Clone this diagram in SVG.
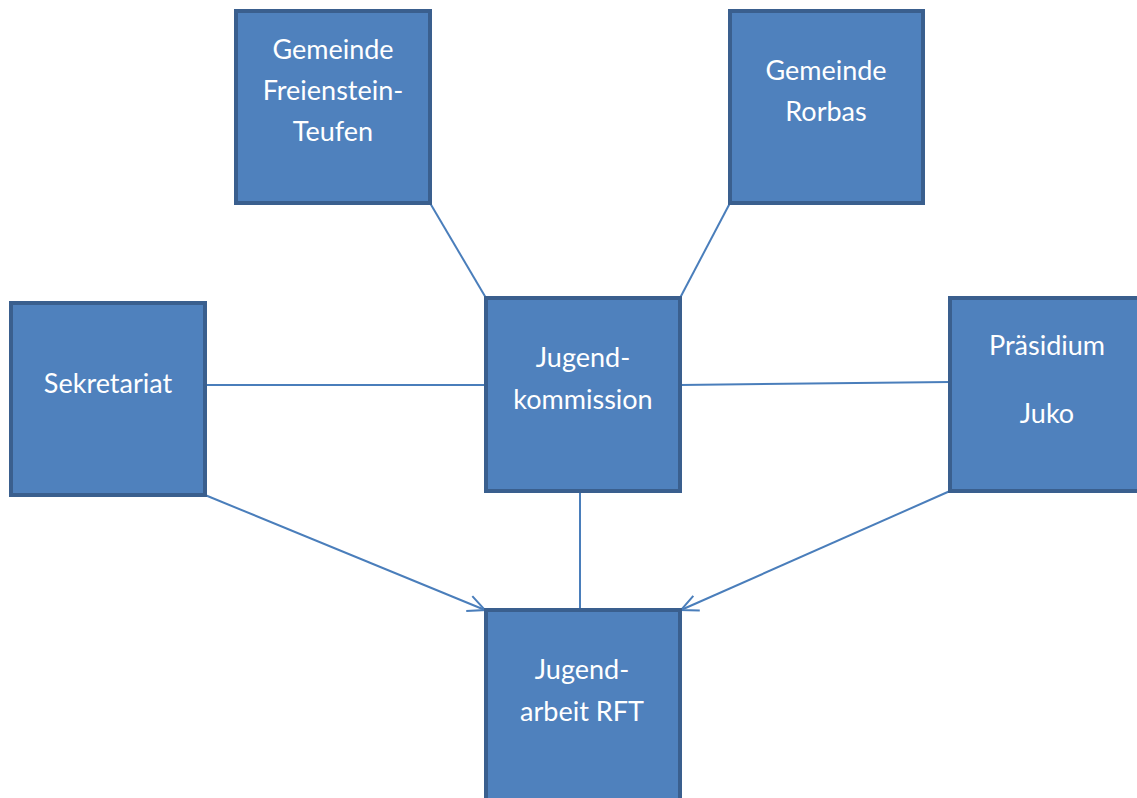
<svg xmlns="http://www.w3.org/2000/svg" width="1137" height="798" viewBox="0 0 1137 798">
<style>
.box{fill:#4F81BD;stroke:#3A5F8E;stroke-width:4}
.t{font-family:Lato,"Open Sans",sans-serif;font-size:27px;fill:#fff;text-anchor:middle}
.c{stroke:#4A7EBB;stroke-width:2;fill:none}
</style>
<defs>
<marker id="arr" markerWidth="22" markerHeight="22" refX="19" refY="11" orient="auto" markerUnits="userSpaceOnUse">
<path d="M2,3 L19,11 L2,19" fill="none" stroke="#4A7EBB" stroke-width="2"/>
</marker>
</defs>
<rect width="1137" height="798" fill="#fff"/>
<g id="connectors">
<line class="c" x1="430" y1="203" x2="486" y2="298"/>
<line class="c" x1="730" y1="203" x2="680" y2="298"/>
<line class="c" x1="205" y1="385" x2="486" y2="385"/>
<line class="c" x1="680" y1="385" x2="950" y2="382"/>
<line class="c" x1="205" y1="495" x2="485" y2="610" marker-end="url(#arr)"/>
<line class="c" x1="580" y1="491" x2="580" y2="610"/>
<line class="c" x1="950" y1="491" x2="681" y2="610" marker-end="url(#arr)"/>
</g>
<g id="freienstein">
<rect class="box" x="236" y="11" width="194" height="192"/>
<text class="t" x="333" y="59">Gemeinde</text>
<text class="t" x="333" y="100">Freienstein-</text>
<text class="t" x="333" y="141">Teufen</text>
</g>
<g id="rorbas">
<rect class="box" x="730" y="11" width="193" height="192"/>
<text class="t" x="826" y="80">Gemeinde</text>
<text class="t" x="826" y="121">Rorbas</text>
</g>
<g id="sekretariat">
<rect class="box" x="11" y="303" width="194" height="192"/>
<text class="t" x="108" y="393">Sekretariat</text>
</g>
<g id="jugendkommission">
<rect class="box" x="486" y="298" width="194" height="193"/>
<text class="t" x="583" y="367">Jugend-</text>
<text class="t" x="583" y="409">kommission</text>
</g>
<g id="praesidium">
<rect class="box" x="950" y="298" width="190" height="193"/>
<text class="t" x="1047" y="355">Präsidium</text>
<text class="t" x="1047" y="423">Juko</text>
</g>
<g id="jugendarbeit">
<rect class="box" x="486" y="610" width="194" height="192"/>
<text class="t" x="582" y="679">Jugend-</text>
<text class="t" x="582" y="721">arbeit RFT</text>
</g>
</svg>
